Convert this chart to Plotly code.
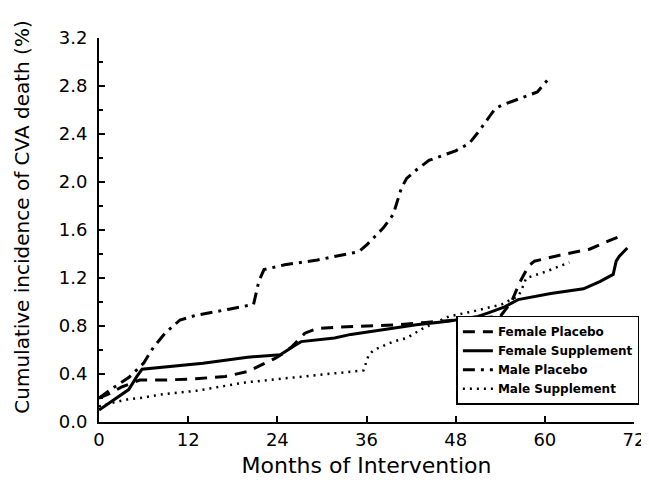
import plotly.graph_objects as go

# Female Placebo (dashed)
fp_month = [0, 1.5, 3, 4.5, 5.5, 9, 13, 17, 20, 22, 23.7, 25, 26, 27.7, 29.4, 32, 36, 40, 44, 48, 51, 54, 55.5, 56.6, 57.8, 58.6, 62, 66, 69, 70.6]
fp_val = [0.20, 0.24, 0.29, 0.33, 0.35, 0.35, 0.36, 0.38, 0.42, 0.48, 0.53, 0.58, 0.63, 0.74, 0.78, 0.79, 0.80, 0.81, 0.83, 0.85, 0.87, 0.88, 1.00, 1.16, 1.30, 1.34, 1.39, 1.44, 1.52, 1.56]

# Female Supplement (solid)
fs_month = [0, 1.4, 2.7, 4, 5.1, 5.8, 14, 20, 24.4, 25.5, 26.4, 27.2, 31.7, 33.9, 38, 42.7, 47, 51, 52.4, 54.6, 56.4, 60.8, 65.2, 67.4, 69.2, 69.6, 70, 71.1]
fs_val = [0.10, 0.16, 0.21, 0.27, 0.38, 0.44, 0.49, 0.54, 0.56, 0.60, 0.64, 0.67, 0.70, 0.73, 0.77, 0.81, 0.84, 0.88, 0.91, 0.96, 1.02, 1.07, 1.11, 1.17, 1.23, 1.34, 1.38, 1.45]

# Male Placebo (dash-dot)
mp_month = [0, 1.8, 4, 6, 7.3, 8.9, 10.9, 13.1, 17.5, 20.8, 21.5, 22.2, 25, 29.4, 35, 36.1, 38.3, 39.6, 40.3, 40.7, 41.4, 42.7, 44.4, 46.2, 48, 49.8, 51.1, 52.6, 53.3, 54.2, 56.8, 59, 59.8, 60.5]
mp_val = [0.20, 0.28, 0.37, 0.49, 0.62, 0.74, 0.85, 0.89, 0.94, 0.98, 1.17, 1.27, 1.31, 1.35, 1.42, 1.48, 1.62, 1.73, 1.87, 1.95, 2.03, 2.10, 2.18, 2.22, 2.26, 2.32, 2.42, 2.55, 2.61, 2.64, 2.70, 2.75, 2.81, 2.86]

# Male Supplement (dotted)
ms_month = [0, 1.8, 4, 5.6, 8.4, 13.1, 19.7, 26.1, 29.4, 35.6, 36.3, 37, 39.6, 41.4, 43.6, 47.1, 50.2, 54.2, 56.4, 56.8, 57.5, 60, 63.3]
ms_val = [0.13, 0.16, 0.19, 0.20, 0.23, 0.26, 0.33, 0.37, 0.39, 0.43, 0.56, 0.60, 0.67, 0.70, 0.78, 0.88, 0.92, 0.98, 1.05, 1.09, 1.20, 1.25, 1.33]

x_ticks = [0, 12, 24, 36, 48, 60, 72]
y_ticks = [0.0, 0.4, 0.8, 1.2, 1.6, 2.0, 2.4, 2.8, 3.2]

FONT = "DejaVu Sans"

fig = go.Figure()
fig.add_trace(go.Scatter(x=fp_month, y=fp_val, mode="lines", name="Female Placebo",
                         line=dict(color="black", width=3, dash="12px,8px")))
fig.add_trace(go.Scatter(x=fs_month, y=fs_val, mode="lines", name="Female Supplement",
                         line=dict(color="black", width=3)))
fig.add_trace(go.Scatter(x=mp_month, y=mp_val, mode="lines", name="Male Placebo",
                         line=dict(color="black", width=3, dash="12px,6px,3px,6px")))
fig.add_trace(go.Scatter(x=ms_month, y=ms_val, mode="lines", name="Male Supplement",
                         line=dict(color="black", width=2.5, dash="2px,5px")))

fig.update_layout(
    width=649, height=480,
    margin=dict(l=91, r=18, t=30, b=66),
    paper_bgcolor="white", plot_bgcolor="white",
    font=dict(family=FONT, color="black"),
    showlegend=True,
    legend=dict(x=0.668, y=0.045, xanchor="left", yanchor="bottom",
                bordercolor="black", borderwidth=1.5, bgcolor="white",
                font=dict(size=12, family=FONT, weight="bold"), tracegroupgap=0,
                itemwidth=30),
    xaxis=dict(range=[0, 72], tickvals=x_ticks, ticktext=[str(v) for v in x_ticks],
               showgrid=False, zeroline=False, showline=True, linecolor="black", linewidth=2,
               ticks="inside", ticklen=6, tickwidth=1.5, tickcolor="black",
               tickfont=dict(size=18, family=FONT),
               title=dict(text="Months of Intervention", font=dict(size=22, family=FONT), standoff=9)),
    yaxis=dict(range=[0, 3.2], tickvals=y_ticks, ticktext=[f"{v:.1f}" for v in y_ticks],
               showgrid=False, zeroline=False, showline=True, linecolor="black", linewidth=2,
               ticks="inside", ticklen=6, tickwidth=1.5, tickcolor="black",
               minor=dict(dtick=0.2, ticks="inside", ticklen=4, tickcolor="black", showgrid=False),
               tickfont=dict(size=18, family=FONT), ticklabelstandoff=6),
    annotations=[dict(text="Cumulative incidence of CVA death (%)", textangle=-90,
                      xref="paper", yref="paper", x=(13 - 91) / 540, y=(414 - 209) / 384,
                      xanchor="center", yanchor="middle", showarrow=False,
                      font=dict(size=20, family=FONT, color="black"))],
)

fig.write_html("out.html")
